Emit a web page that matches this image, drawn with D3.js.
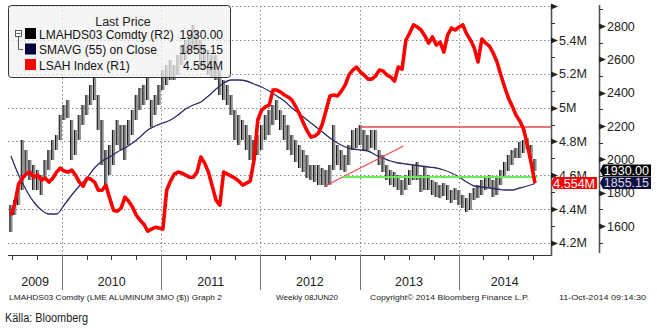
<!DOCTYPE html>
<html><head><meta charset="utf-8">
<script src="https://cdn.jsdelivr.net/npm/d3@7"></script>
<style>
html,body{margin:0;padding:0;background:#fff;}
svg text{font-family:"Liberation Sans",Arial,sans-serif;}
</style></head>
<body><svg id="c" width="657" height="329"></svg>
<script>
// ---------- DATA ----------
const barStart = "2009-06-26";      // weekly chart, sampled every 2 weeks
const barStepDays = 14;
const priceHigh = [1726,1756,1846,2116,2056,1996,1966,1936,1906,1996,2056,2116,2146,2266,2326,2356,2236,2176,2266,2326,
 2386,2446,2488,2386,2236,2056,2086,2176,2236,2206,2206,2236,2296,2386,2428,2446,2494,2356,2386,2446,
 2536,2566,2596,2566,2626,2686,2716,2746,2806,2776,2716,2686,2656,2626,2626,2536,2476,2446,2386,2296,
 2266,2236,2206,2146,2116,2146,2206,2266,2296,2326,2356,2296,2266,2206,2146,2116,2086,2056,2026,1966,
 1966,1966,1948,1936,1966,2206,2086,2056,2026,2086,2176,2188,2206,2176,2146,2176,2176,2056,2026,1966,
 1936,1924,1906,1876,1906,1936,1966,1984,1906,1954,1906,1876,1864,1846,1858,1846,1816,1828,1816,1786,
 1768,1798,1828,1846,1876,1888,1906,1876,1888,1936,1984,2026,2056,2068,2104,2116,2128,2086,2002];
const priceLow = [1564,1666,1726,1816,1906,1876,1816,1816,1786,1876,1936,1996,2056,2116,2236,2248,1996,2026,2116,2206,
 2266,2326,2356,2176,1966,1846,1906,1966,2086,2056,1996,2086,2146,2236,2296,2326,2356,2194,2266,2326,
 2416,2446,2476,2476,2506,2566,2596,2626,2656,2656,2536,2536,2506,2488,2476,2386,2356,2326,2266,2116,
 2086,2116,2056,1996,1996,2026,2056,2116,2146,2206,2236,2176,2116,2056,2026,1984,1948,1924,1888,1876,
 1864,1846,1846,1834,1846,1936,1966,1936,1924,1966,2056,2068,2086,2056,2056,2068,2056,1966,1924,1876,
 1846,1834,1816,1786,1816,1846,1876,1876,1804,1816,1816,1786,1774,1768,1780,1756,1738,1756,1726,1708,
 1684,1696,1756,1768,1786,1816,1828,1774,1786,1846,1888,1930,1966,2008,2008,2038,2062,2002,1930];
const maStepDays = 28;
const smavg55 = [2020,1906,1816,1744,1696,1672,1672,1726,1786,1840,1888,1948,1990,2014,2044,2068,2098,2134,2176,2200,
 2218,2236,2266,2302,2326,2344,2380,2422,2458,2476,2476,2470,2452,2434,2410,2380,2350,2308,2272,2236,
 2200,2164,2128,2098,2074,2062,2056,2050,2026,2008,1990,1978,1972,1966,1960,1954,1948,1936,1918,1894,
 1864,1840,1834,1828,1822,1816,1816,1828,1840,1855.15];
const lsahMillions = [4.364,4.430,4.548,4.583,4.607,4.619,4.589,4.601,4.572,4.583,4.560,4.583,4.619,4.643,4.625,4.619,4.631,4.601,4.560,4.536,
 4.583,4.578,4.560,4.512,4.512,4.542,4.465,4.394,4.388,4.406,4.471,4.447,4.412,4.364,4.335,4.311,4.270,4.282,4.293,4.288,
 4.282,4.512,4.566,4.607,4.619,4.613,4.601,4.589,4.589,4.619,4.708,4.672,4.619,4.536,4.453,4.424,4.619,4.607,4.595,4.583,
 4.566,4.542,4.554,4.566,4.690,4.927,4.986,5.004,5.015,5.104,5.104,5.092,5.075,5.063,5.045,5.004,4.962,4.909,4.862,4.826,
 4.832,4.850,4.903,4.986,5.069,5.075,5.069,5.098,5.134,5.193,5.222,5.240,5.211,5.193,5.169,5.169,5.187,5.222,5.217,5.193,
 5.181,5.157,5.240,5.228,5.400,5.441,5.489,5.477,5.459,5.424,5.382,5.418,5.370,5.388,5.329,5.430,5.471,5.459,5.477,5.489,
 5.436,5.400,5.353,5.270,5.406,5.382,5.364,5.323,5.270,5.193,5.122,5.057,5.009,4.956,4.921,4.873,4.779,4.672,4.554];
const r1Ticks = [4.2,4.4,4.6,4.8,5.0,5.2,5.4,5.6];
const r2Ticks = [1600,1800,2000,2200,2400,2600,2800];
const yearLabels = ["2009","2010","2011","2012","2013","2014"];
// drawn annotation lines (date, price on R2)
const trendLine = [["2012-08-27",1840],["2013-06-12",2080]];
const resistLine = [["2013-01-04",2194],["2014-12-08",2194]];
const supportLine = [["2012-11-01",1894],["2014-10-19",1894]];
const legendTitle = "Last Price";
const legendNames = ["LMAHDS03 Comdty  (R2)","SMAVG (55) on Close","LSAH Index  (R1)"];
const legendValues = ["1930.00","1855.15","4.554M"];
const footer = ["LMAHDS03 Comdty (LME ALUMINUM  3MO ($)) Graph 2","Weekly 08JUN20","Copyright\u00a9 2014 Bloomberg Finance L.P.","11-Oct-2014 09:14:30"];
const source = "K\u00e4lla: Bloomberg";

// ---------- SCALES ----------
const P = d3.timeParse("%Y-%m-%d");
const L = 8, R = 551, T = 6, B = 255;
const x = d3.scaleTime().domain([P("2009-06-15"), P("2014-12-08")]).range([L, R]);
const yR1 = d3.scaleLinear().domain([4.129, 5.601]).range([B, T]);
const yR2 = d3.scaleLinear().domain([1426, 2920]).range([B, T]);
const barDates = priceHigh.map((_, i) => d3.timeDay.offset(P(barStart), barStepDays * i));
const maDates = smavg55.map((_, i) => d3.timeDay.offset(P(barStart), maStepDays * i));

const svg = d3.select("#c");
svg.append("rect").attr("width",657).attr("height",329).attr("fill","#fff");
svg.append("clipPath").attr("id","clip").append("rect").attr("x",L).attr("y",T-1).attr("width",R-L).attr("height",B-T+1);

// ---------- GRID ----------
const grid = svg.append("g").attr("stroke","#8a8a8a").attr("stroke-dasharray","1.5,2.5").attr("stroke-width",1);
r1Ticks.forEach(v => grid.append("line").attr("x1",L).attr("x2",R).attr("y1",Math.round(yR1(v))+0.5).attr("y2",Math.round(yR1(v))+0.5));
const years = d3.timeYear.range(P("2010-01-01"), P("2015-01-01"));
years.forEach(d => grid.append("line").attr("x1",Math.round(x(d))+0.5).attr("x2",Math.round(x(d))+0.5).attr("y1",T).attr("y2",B));

// ---------- SERIES ----------
const plot = svg.append("g").attr("clip-path","url(#clip)");
const bars = plot.append("g");
bars.selectAll("rect").data(barDates).join("rect")
  .attr("x", d => x(d) - 1.4).attr("width", 3.0)
  .attr("y", (d,i) => yR2(priceHigh[i]))
  .attr("height", (d,i) => yR2(priceLow[i]) - yR2(priceHigh[i]))
  .attr("fill","#8f8f8f").attr("stroke","none");
bars.selectAll("line").data(barDates).join("line")
  .attr("x1", d => x(d) - 1.1).attr("x2", d => x(d) - 1.1)
  .attr("y1", (d,i) => yR2(priceHigh[i])).attr("y2", (d,i) => yR2(priceLow[i]))
  .attr("stroke","#111").attr("stroke-width",1);

plot.append("path").datum(smavg55)
  .attr("d", d3.line().x((d,i) => x(maDates[i])).y(d => yR2(d)).curve(d3.curveMonotoneX))
  .attr("fill","none").attr("stroke","#2b2b6b").attr("stroke-width",1.3);

const ann = (pts, col, w) => plot.append("path").datum(pts)
  .attr("d", d3.line().x(d => x(P(d[0]))).y(d => yR2(d[1])))
  .attr("fill","none").attr("stroke",col).attr("stroke-width",w);
ann(resistLine, "#e8474a", 1.3);
ann(trendLine, "#f04a4a", 1.3);
ann(supportLine, "#66ee55", 2);

plot.append("path").datum(lsahMillions)
  .attr("d", d3.line().x((d,i) => x(barDates[i])).y(d => yR1(d)))
  .attr("fill","none").attr("stroke","#ff0000").attr("stroke-width",3.6).attr("stroke-linejoin","round");

// ---------- AXES ----------
const ax = svg.append("g");
ax.append("line").attr("x1",L).attr("x2",R+0.5).attr("y1",B+0.5).attr("y2",B+0.5).attr("stroke","#333").attr("stroke-width",1.2);
ax.append("line").attr("x1",R+0.5).attr("x2",R+0.5).attr("y1",T-1).attr("y2",B+1).attr("stroke","#555").attr("stroke-width",1.6);
ax.append("line").attr("x1",599.5).attr("x2",599.5).attr("y1",T-1).attr("y2",253).attr("stroke","#555").attr("stroke-width",1.6);

// bottom quarter ticks + year separators
d3.timeMonth.every(3).range(x.domain()[0], x.domain()[1]).forEach(d => {
  const isYear = d.getMonth() === 0;
  ax.append("line").attr("x1",Math.round(x(d))+0.5).attr("x2",Math.round(x(d))+0.5)
    .attr("y1",B).attr("y2", isYear ? 290 : 260).attr("stroke", isYear ? "#777" : "#333").attr("stroke-width",1);
});
const yb = [x.domain()[0], ...years, x.domain()[1]];
yearLabels.forEach((t,i) => ax.append("text").attr("x",(x(yb[i])+x(yb[i+1]))/2).attr("y",286)
  .attr("text-anchor","middle").attr("font-size",12.5).attr("fill","#222").text(t));

// right axis R1
const tri = (g, xx, yy) => g.append("path").attr("d",`M${xx},${yy-3}L${xx+7},${yy}L${xx},${yy+3}Z`).attr("fill","#222");
d3.range(4.2, 5.65, 0.1).forEach(v => {
  const yy = Math.round(yR1(v)) + 0.5;
  const major = Math.abs(Math.round(v*10) % 2) === 0;
  if (major) tri(ax, R, yy); else ax.append("line").attr("x1",R).attr("x2",R+4).attr("y1",yy).attr("y2",yy).attr("stroke","#333");
});
r1Ticks.filter(v => v < 5.5).forEach(v => ax.append("text").attr("x",559).attr("y",yR1(v)+4.5)
  .attr("font-size",12.5).attr("fill","#222").text((+v.toFixed(1)) + "M"));

// right axis R2
d3.range(1500, 2950, 100).forEach(v => {
  const yy = Math.round(yR2(v)) + 0.5;
  if (r2Ticks.includes(v)) tri(ax, 599, yy); else ax.append("line").attr("x1",599).attr("x2",603).attr("y1",yy).attr("y2",yy).attr("stroke","#333");
});
r2Ticks.forEach(v => ax.append("text").attr("x",607).attr("y",yR2(v)+4.5)
  .attr("font-size",12.5).attr("fill","#222").text(v));

// ---------- LAST VALUE LABELS ----------
const tag = (x0, x1, yc, fill, txtCol, txt) => {
  const g = svg.append("g");
  g.append("path").attr("d",`M${x0},${yc}L${x0+3},${yc-6}L${x1},${yc-6}L${x1},${yc+6}L${x0+3},${yc+6}Z`).attr("fill",fill);
  g.append("text").attr("x",x1-2).attr("y",yc+4.5).attr("text-anchor","end").attr("font-size",12.5).attr("fill",txtCol).text(txt);
};
tag(600, 651, yR2(smavg55[smavg55.length-1]) - 0.5, "#101040", "#d8d8e8", legendValues[1]);
tag(600, 651, yR2(1930) - 0.5, "#000", "#fff", legendValues[0]);
tag(551, 597, yR1(lsahMillions[lsahMillions.length-1]), "#ff0000", "#fff", legendValues[2]);

// ---------- LEGEND ----------
const lg = svg.append("g");
lg.append("rect").attr("x",8.5).attr("y",5.5).attr("width",222).attr("height",72).attr("rx",3)
  .attr("fill","#f1f1f1").attr("fill-opacity",0.72).attr("stroke","#333").attr("stroke-width",1);
lg.append("text").attr("x",123).attr("y",26).attr("text-anchor","middle").attr("font-size",12.5).attr("fill","#222").text(legendTitle);
const sw = ["#000000","#000040","#ff0000"];
legendNames.forEach((n,i) => {
  const yc = 34 + i*15.5;
  lg.append("rect").attr("x",25).attr("y",yc-6).attr("width",11).attr("height",11).attr("fill",sw[i]);
  lg.append("text").attr("x",39).attr("y",yc+4.5).attr("font-size",12).attr("fill","#111").text(n);
  lg.append("text").attr("x",223).attr("y",yc+4.5).attr("text-anchor","end").attr("font-size",12).attr("fill","#111").text(legendValues[i]);
});
lg.append("rect").attr("x",15.5).attr("y",30.5).attr("width",6).attr("height",6).attr("fill","#fff").attr("stroke","#333").attr("stroke-width",0.8);
lg.append("line").attr("x1",16.5).attr("x2",20.5).attr("y1",33.5).attr("y2",33.5).attr("stroke","#333").attr("stroke-width",0.8);
lg.append("path").attr("d","M18.5,36.5V49.5H23").attr("fill","none").attr("stroke","#333").attr("stroke-width",0.8);

// ---------- FOOTER ----------
const fx = [9, 276, 370, 559], fw = [213, 62, 159, 87];
footer.forEach((t,i) => svg.append("text").attr("x",fx[i]).attr("y",300).attr("font-size",8)
  .attr("textLength",fw[i]).attr("lengthAdjust","spacingAndGlyphs").attr("fill","#222").text(t));
svg.append("text").attr("x",5).attr("y",322).attr("font-size",12).attr("textLength",83)
  .attr("lengthAdjust","spacingAndGlyphs").attr("fill","#222").text(source);
</script></body></html>
